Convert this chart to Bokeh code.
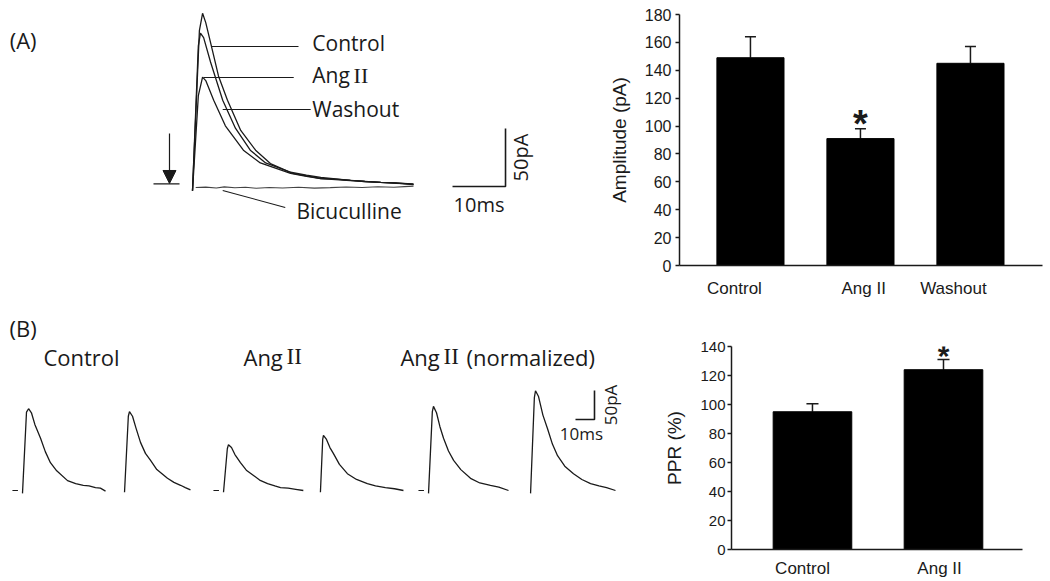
import math
from bokeh.plotting import figure
from bokeh.layouts import row, column
from bokeh.models import Range1d, Arrow, NormalHead, Label, FixedTicker
from bokeh.core.properties import value
from bokeh.embed import file_html
from bokeh.resources import INLINE

SANS = "Open Sans"
ARIAL = "Liberation Sans"
SERIF = "Liberation Serif"
INK = "#1a1a1a"

# ---------------- DATA ----------------
# Panel A: evoked IPSC traces (time after stimulus in ms, current in pA)
a_ctrl_t = [0, 1.3, 1.9, 2.5, 3.6, 4.9, 6.6, 9.1, 11.9, 14.7, 18.9, 22.0, 24.2, 27.0, 29.8, 32.5, 35.5, 38.5, 41.7]
a_ctrl_i = [-5, 133, 148, 140, 119, 94, 73, 47, 30, 18.5, 10, 7.5, 5.6, 5.0, 3.9, 3.2, 2.2, 1.8, 0.6]
a_wash_t = [0, 1.1, 1.5, 2.1, 3.4, 5.7, 8.1, 10.9, 13.8, 18.5, 21.5, 24.2, 27.0, 29.8, 32.5, 35.5, 38.5, 41.7]
a_wash_i = [-5, 120, 131, 127, 106, 73, 49, 30, 19, 11, 8.5, 6.5, 5.2, 3.9, 3.0, 2.2, 1.5, 1.0]
a_ang_t = [0, 1.1, 1.9, 2.5, 4.0, 6.2, 9.6, 12.8, 18.5, 21.5, 24.2, 27.0, 29.8, 32.5, 35.5, 38.5, 41.7]
a_ang_i = [-5, 77, 93, 90, 73, 51, 30, 19, 10, 7.5, 5.6, 4.6, 3.9, 3.0, 2.2, 1.6, 0.4]
a_bic_t = [0.6, 2.5, 4.5, 6, 8, 10, 12, 14.5, 17, 20, 23, 26, 29, 32, 35, 38, 40, 41.7]
a_bic_i = [-2.2, -1.8, -2.6, -1.6, -2.4, -2.0, -2.8, -2.2, -2.6, -1.9, -2.7, -2.3, -1.7, -2.2, -1.5, -2.0, -1.4, -1.0]

# Panel B: paired-pulse traces (time after each stimulus in ms, current in pA)
b_ctrl1_t = [0, 2.1, 3.2, 4.7, 6.5, 9.5, 12, 14.7, 18, 23.7, 28, 32, 35, 38.4, 41, 43.7]
b_ctrl1_i = [-5, 135, 141, 134, 114, 90, 67, 48, 34, 17, 12, 9, 8, 5, 4, -1]
b_ctrl2_t = [0, 2.0, 2.6, 4.2, 6.0, 8.4, 11, 13.7, 17, 22.6, 26, 29.5, 32, 34.7]
b_ctrl2_i = [-3, 128, 136, 128, 108, 83, 64, 52, 36, 21, 14, 9, 5, 1]
b_ang1_t = [0, 2.0, 2.6, 4.2, 6.0, 8.9, 12, 15.8, 19, 23.2, 27, 30, 34, 38, 42]
b_ang1_i = [-3, 72, 79, 74, 62, 48, 35, 26, 18, 12, 8, 5, 4, 2, 0]
b_ang2_t = [0, 1.2, 1.6, 3.2, 5.0, 6.8, 10, 14.2, 19, 24.7, 29, 34.2, 39, 43.7]
b_ang2_i = [-3, 88, 95, 88, 74, 64, 45, 29, 19, 12, 8, 5, 3, 0]
b_norm1_t = [0, 2.0, 2.6, 4.2, 6.0, 7.9, 10.5, 13.2, 17, 22.1, 27, 32.6, 37, 42.1]
b_norm1_i = [-5, 136, 145, 134, 110, 90, 68, 52, 36, 21, 13, 9, 6, 0]
b_norm2_t = [0, 2.0, 2.6, 4.2, 6.5, 8.9, 11.5, 14.2, 18, 22.6, 27, 31.6, 36, 40, 44.7]
b_norm2_i = [-5, 160, 172, 162, 130, 107, 80, 60, 42, 29, 19, 12, 8, 5, 0]

# Scale bars
scale_ms = 10
scale_pa = 50

# Bar charts
amp_cats = ["Control", "Ang II", "Washout"]
amp_vals = [149, 91, 145]
amp_errs = [15, 7, 12]
ppr_cats = ["Control", "Ang II"]
ppr_vals = [95, 124]
ppr_errs = [5.5, 7]


# ---------------- HELPERS ----------------
def no_align(p):
    if "frame_align" in p.properties():
        p.frame_align = False
    return p


def canvas(width, height, xr, yr):
    p = figure(width=width, height=height, x_range=xr, y_range=yr,
               toolbar_location=None, output_backend="svg", min_border=0,
               x_axis_location=None, y_axis_location=None)
    p.grid.visible = False
    p.outline_line_color = None
    return no_align(p)


def txt(p, x, y, s, size, font=SANS, align="left", angle=0.0):
    p.text(x=[x], y=[y], text=[s], text_font=value(font), text_font_size=f"{size}px",
           text_align=align, text_baseline="middle", angle=angle, text_color=INK)


# ---------------- PANEL A TRACES ----------------
A_W, A_H = 600, 310
A_PXMS, A_PXPA = 5.3, 1.16
A_OX, A_OY = 192, 184.5  # px of (0 ms, 0 pA) from figure top-left
pa = canvas(A_W, A_H,
            Range1d(-A_OX / A_PXMS, (A_W - A_OX) / A_PXMS),
            Range1d(-(A_H - A_OY) / A_PXPA, A_OY / A_PXPA))

for t, i in [(a_ctrl_t, a_ctrl_i), (a_wash_t, a_wash_i), (a_ang_t, a_ang_i)]:
    pa.line(t, i, line_color=INK, line_width=1.3)
pa.line(a_bic_t, a_bic_i, line_color="#444444", line_width=1.1)

# leader lines
pa.segment(x0=[3.6, 2.1, 5.7, 5.7], y0=[119.4, 92.7, 65.1, -4.7],
           x1=[20.0, 19.1, 22.3, 17.5], y1=[119.4, 92.7, 65.1, -19.4],
           line_color=INK, line_width=1.1)
txt(pa, 22.6, 122.8, "Control", 21)
txt(pa, 22.6, 94.4, "Ang", 21)
txt(pa, 30.4, 94.4, "II", 22, font=SERIF)
txt(pa, 22.6, 65.9, "Washout", 21)
txt(pa, 19.6, -22.0, "Bicuculline", 21)
txt(pa, -34.5, 124.6, "(A)", 22)

# stimulus arrow and baseline marker
pa.add_layout(Arrow(end=NormalHead(size=13, fill_color=INK, line_color=INK),
                    x_start=-4.34, y_start=44.4, x_end=-4.34, y_end=1.3,
                    line_color=INK, line_width=1.2))
pa.segment(x0=[-7.36], y0=[1.0], x1=[-2.45], y1=[1.0], line_color=INK, line_width=1.1)

# scale bar A
sbx, sby = 49.06, -1.3
pa.line([sbx, sbx + scale_ms, sbx + scale_ms], [sby, sby, sby + scale_pa],
        line_color=INK, line_width=1.6)
txt(pa, sbx + scale_ms / 2, -16.4, f"{scale_ms}ms", 20, align="center")
txt(pa, sbx + scale_ms + 2.9, sby + scale_pa / 2, f"{scale_pa}pA", 20, align="center",
    angle=math.pi / 2)

# ---------------- PANEL B TRACES ----------------
B_W, B_H = 650, 271
B_PXMS, B_PXPA = 1.9, 0.58
B_OX, B_OY = 22, 180  # px of (0 ms, 0 pA) from figure top-left
pb = canvas(B_W, B_H,
            Range1d(-B_OX / B_PXMS, (B_W - B_OX) / B_PXMS),
            Range1d(-(B_H - B_OY) / B_PXPA, B_OY / B_PXPA))

onsets = [0, 53.7, 105.8, 156.8, 213.7, 267.4]
traces_b = [(b_ctrl1_t, b_ctrl1_i), (b_ctrl2_t, b_ctrl2_i), (b_ang1_t, b_ang1_i),
            (b_ang2_t, b_ang2_i), (b_norm1_t, b_norm1_i), (b_norm2_t, b_norm2_i)]
for on, (t, i) in zip(onsets, traces_b):
    pb.line([on + v for v in t], i, line_color=INK, line_width=1.3)
for on in onsets[::2]:
    pb.segment(x0=[on - 5.3], y0=[0], x1=[on - 2.4], y1=[0], line_color=INK, line_width=1.1)

txt(pb, -6.8, 281, "(B)", 22)
txt(pb, 11.0, 231, "Control", 22)
txt(pb, 116.3, 231, "Ang", 22)
txt(pb, 139.0, 231, "II", 23, font=SERIF)
txt(pb, 198.9, 231, "Ang", 22)
txt(pb, 221.6, 231, "II", 23, font=SERIF)
txt(pb, 233.7, 231, "(normalized)", 22)

sbx2, sby2 = 291.05, 122.4
pb.line([sbx2, sbx2 + scale_ms, sbx2 + scale_ms], [sby2, sby2, sby2 + scale_pa],
        line_color=INK, line_width=1.6)
txt(pb, 294.2, 98.3, f"{scale_ms}ms", 17, align="center")
txt(pb, 309.5, sby2 + scale_pa / 2, f"{scale_pa}pA", 17, align="center", angle=math.pi / 2)


# ---------------- BAR CHARTS ----------------
def bar_chart(width, height, xr, ymax, borders, cats, vals, errs, bar_w, cap_hw,
              tick_size, ylabel, label_std, tick_std, label_pos, xlab_std):
    l, r, t, b = borders
    p = figure(width=width, height=height, x_range=xr, y_range=Range1d(0, ymax),
               toolbar_location=None, output_backend="svg",
               min_border_left=l, min_border_right=r, min_border_top=t, min_border_bottom=b)
    no_align(p)
    p.grid.visible = False
    p.outline_line_color = None
    xs = list(range(len(cats)))
    tops = [v + e for v, e in zip(vals, errs)]
    p.segment(x0=xs, y0=vals, x1=xs, y1=tops, line_color=INK, line_width=1.5)
    p.segment(x0=[x - cap_hw for x in xs], y0=tops, x1=[x + cap_hw for x in xs], y1=tops,
              line_color=INK, line_width=1.5)
    p.vbar(x=xs, top=vals, width=bar_w, fill_color="black", line_color="black")
    for ax in (p.xaxis[0], p.yaxis[0]):
        ax.axis_line_width = 1.5
        ax.axis_line_color = INK
        ax.minor_tick_line_color = None
    # category labels sit slightly off the bar centres, as in the original
    p.xaxis.ticker = FixedTicker(ticks=label_pos)
    p.xaxis.major_label_overrides = {pos: c for pos, c in zip(label_pos, cats)}
    p.xaxis.major_tick_line_color = None
    p.xaxis.major_tick_out = 0
    p.xaxis.major_tick_in = 0
    p.xaxis.major_label_text_font = ARIAL
    p.xaxis.major_label_text_font_size = "17px"
    p.xaxis.major_label_text_color = INK
    p.xaxis.major_label_standoff = xlab_std
    p.yaxis.ticker = FixedTicker(ticks=list(range(0, ymax + 1, 20)))
    p.yaxis.major_tick_out = 4
    p.yaxis.major_tick_in = 0
    p.yaxis.major_tick_line_width = 1.5
    p.yaxis.major_tick_line_color = INK
    p.yaxis.major_label_text_font = ARIAL
    p.yaxis.major_label_text_font_size = f"{tick_size}px"
    p.yaxis.major_label_text_color = INK
    p.yaxis.major_label_standoff = tick_std
    p.yaxis.axis_label = ylabel
    p.yaxis.axis_label_text_font = ARIAL
    p.yaxis.axis_label_text_font_style = "normal"
    p.yaxis.axis_label_text_font_size = "19px"
    p.yaxis.axis_label_text_color = INK
    p.yaxis.axis_label_standoff = label_std
    return p


ba = bar_chart(450, 310, Range1d(-0.645, 2.655), 180, (79, 8, 14, 45),
               amp_cats, amp_vals, amp_errs, 0.61, 0.05, 16, "Amplitude (pA)", 12, 4,
               [-0.145, 1.03, 1.845], 13)
ba.add_layout(Label(x=1, y=amp_vals[1] + amp_errs[1] + 3.6, text="*", text_align="center",
                    text_baseline="middle", text_font=ARIAL, text_font_style="bold",
                    text_font_size="38px", text_color=INK))

bb = bar_chart(400, 271, Range1d(-0.618, 1.603), 140, (81, 28, 36, 32),
               ppr_cats, ppr_vals, ppr_errs, 0.60, 0.046, 15, "PPR (%)", 12, 2,
               [-0.076, 0.97], 9)
bb.add_layout(Label(x=1, y=ppr_vals[1] + ppr_errs[1] + 3.0, text="*", text_align="center",
                    text_baseline="middle", text_font=ARIAL, text_font_style="bold",
                    text_font_size="30px", text_color=INK))

layout = column(row(pa, ba, spacing=0), row(pb, bb, spacing=0), spacing=0)
open("out.html", "w").write(file_html(layout, INLINE, title="Ang II IPSC"))
